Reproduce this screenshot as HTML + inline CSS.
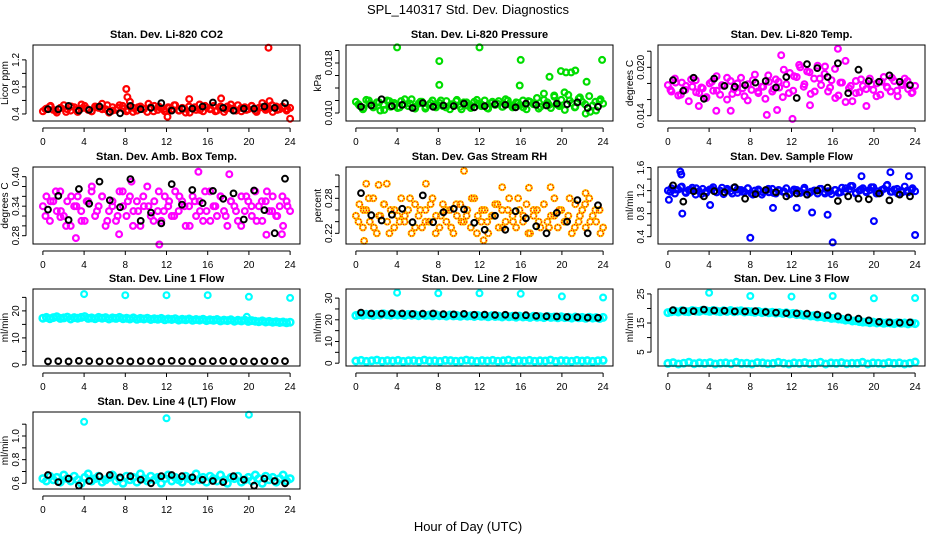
<!DOCTYPE html>
<html><head><meta charset="utf-8"><style>
html,body{margin:0;padding:0;background:#fff;}
svg{display:block;font-family:"Liberation Sans",Arial,sans-serif;}
</style></head><body>
<svg id="chart" width="936" height="540" viewBox="0 0 936 540">
<text x="468" y="14" text-anchor="middle" font-size="13">SPL_140317  Std. Dev. Diagnostics</text>
<text x="468" y="531" text-anchor="middle" font-size="13">Hour of Day (UTC)</text>
</svg>
<script>
// ---- data ----
const xTicks=[0,4,8,12,16,20,24];
const co2Red=[0.44,0.48,0.51,0.46,0.42,0.49,0.53,0.47,0.45,0.50,0.43,0.48,0.52,0.46,0.44,0.51,0.49,0.55,0.47,0.42,0.50,0.46,0.53,0.48,0.44,0.58,0.49,0.45,0.51,0.47,0.43,0.50,0.52,0.46,0.48,0.44,0.50,0.47,0.53,0.45,0.49,0.42,0.51,0.48,0.46,0.54,0.44,0.50,0.47,0.52,0.45,0.49,0.43,0.51,0.48,0.46,0.53,0.44,0.50,0.47,0.52,0.45,0.49,0.56,0.46,0.48,0.43,0.51,0.47,0.50,0.45,0.49];
const co2RedB=[0.47,0.52,0.45,0.49,0.43,0.51,0.46,0.54,0.48,0.44,0.50,0.47,0.53,0.45,0.49,0.52,0.46,0.43,0.50,0.48,0.55,0.44,0.51,0.47,0.49,0.53,0.45,0.48,0.42,0.50,0.46,0.52,0.48,0.44,0.51,0.47,0.54,0.45,0.49,0.46,0.52,0.43,0.50,0.48,0.53,0.46,0.51,0.47];
const co2OutT=[8.1,8.2,17.3,21.9,24,12.1,14.2,22];
const co2OutV=[0.77,0.65,0.63,1.38,0.33,0.36,0.62,0.59];
const co2Black=[0.47,0.47,0.52,0.45,0.46,0.51,0.43,0.41,0.52,0.47,0.49,0.56,0.45,0.48,0.48,0.51,0.57,0.49,0.45,0.48,0.48,0.51,0.49,0.56];
const presGreen=[0.0118,0.0112,0.0106,0.0121,0.0115,0.0109,0.0117,0.0104,0.0113,0.0120,0.0110,0.0116,0.0108,0.0119,0.0114,0.0111,0.0122,0.0107,0.0115,0.0118,0.0110,0.0113,0.0120,0.0109,0.0116,0.0111,0.0119,0.0106,0.0114,0.0121,0.0110,0.0117,0.0112,0.0108,0.0118,0.0115,0.0111,0.0120,0.0107,0.0116,0.0113,0.0119,0.0110,0.0122,0.0114,0.0109,0.0117,0.0112,0.0120,0.0106,0.0118,0.0115,0.0124,0.0110,0.0131,0.0117,0.0108,0.0126,0.0113,0.0121,0.0105,0.0129,0.0116,0.0110,0.0123,0.0118,0.0099,0.0127,0.0112,0.0104,0.0119,0.0115];
const presGreenB=[0.0114,0.0108,0.0120,0.0111,0.0117,0.0105,0.0119,0.0113,0.0109,0.0122,0.0115,0.0110,0.0118,0.0107,0.0116,0.0112,0.0120,0.0109,0.0114,0.0119,0.0106,0.0117,0.0111,0.0121,0.0113,0.0108,0.0118,0.0115,0.0110,0.0120,0.0112,0.0116,0.0109,0.0119,0.0114,0.0107,0.0121,0.0113,0.0128,0.0111,0.0133,0.0120,0.0109,0.0125,0.0114,0.0102,0.0118,0.0122];
const presOutT=[4,12,16,8.1,8.1,18.8,19.9,20.4,20.9,21.3,15.9,22.4,23.9];
const presOutV=[0.0205,0.0205,0.0185,0.0183,0.0145,0.0158,0.0167,0.0165,0.0165,0.0168,0.0144,0.0150,0.0185];
const presBlack=[0.0110,0.0112,0.0122,0.0111,0.0113,0.0108,0.0116,0.0110,0.0112,0.0111,0.0115,0.0109,0.0111,0.0114,0.0113,0.0109,0.0115,0.0113,0.0112,0.0115,0.0114,0.0117,0.0108,0.0110];
const tempMag=[0.0178,0.0170,0.0186,0.0165,0.0181,0.0172,0.0158,0.0176,0.0184,0.0168,0.0174,0.0162,0.0180,0.0171,0.0189,0.0166,0.0177,0.0160,0.0183,0.0173,0.0169,0.0187,0.0164,0.0179,0.0172,0.0191,0.0168,0.0176,0.0161,0.0182,0.0170,0.0185,0.0175,0.0163,0.0179,0.0193,0.0171,0.0188,0.0200,0.0176,0.0195,0.0167,0.0186,0.0202,0.0178,0.0192,0.0170,0.0184,0.0198,0.0165,0.0181,0.0208,0.0174,0.0158,0.0183,0.0169,0.0177,0.0152,0.0186,0.0172,0.0180,0.0166,0.0188,0.0175,0.0170,0.0183,0.0164,0.0179,0.0186,0.0173,0.0168,0.0177];
const tempMagB=[0.0172,0.0181,0.0166,0.0177,0.0185,0.0169,0.0175,0.0163,0.0182,0.0171,0.0178,0.0187,0.0167,0.0180,0.0174,0.0159,0.0184,0.0170,0.0176,0.0190,0.0173,0.0182,0.0197,0.0168,0.0189,0.0203,0.0179,0.0194,0.0170,0.0186,0.0201,0.0175,0.0162,0.0181,0.0157,0.0177,0.0168,0.0185,0.0173,0.0179,0.0164,0.0182,0.0176,0.0187,0.0171,0.0178,0.0183,0.0169];
const tempOutT=[4.7,6.1,9.6,10.6,12.1,16.5,13.8,11,3];
const tempOutV=[0.0146,0.0146,0.0141,0.0147,0.0136,0.0223,0.0153,0.0215,0.0152];
const tempBlack=[0.0184,0.0171,0.0187,0.0161,0.0186,0.0177,0.0176,0.0178,0.0181,0.0183,0.0175,0.0188,0.0162,0.0204,0.0199,0.0188,0.0205,0.0168,0.0197,0.0183,0.0182,0.0190,0.0182,0.0178];
const ambMag=[0.34,0.36,0.31,0.35,0.33,0.37,0.32,0.35,0.30,0.34,0.36,0.33,0.31,0.35,0.37,0.32,0.34,0.36,0.30,0.33,0.35,0.31,0.37,0.34,0.32,0.36,0.33,0.35,0.30,0.34,0.38,0.32,0.35,0.33,0.31,0.36,0.34,0.32,0.37,0.33,0.35,0.30,0.34,0.36,0.32,0.35,0.31,0.33,0.37,0.34,0.32,0.36,0.33,0.30,0.35,0.34,0.31,0.36,0.33,0.35,0.32,0.37,0.34,0.31,0.35,0.33,0.36,0.32,0.34,0.30,0.35,0.33];
const ambMagB=[0.32,0.35,0.37,0.33,0.30,0.36,0.34,0.31,0.35,0.38,0.33,0.36,0.31,0.34,0.32,0.37,0.35,0.30,0.33,0.36,0.34,0.31,0.37,0.33,0.35,0.32,0.36,0.34,0.30,0.35,0.33,0.37,0.31,0.34,0.36,0.32,0.35,0.33,0.30,0.36,0.34,0.31,0.35,0.37,0.33,0.32,0.36,0.34];
const ambOutT=[3.2,7.4,11.3,15.1,18.1,21.7,23.2,8.6,1.7];
const ambOutV=[0.275,0.283,0.262,0.410,0.405,0.282,0.283,0.390,0.318];
const ambBlack=[0.333,0.361,0.312,0.375,0.345,0.390,0.352,0.338,0.395,0.310,0.327,0.305,0.385,0.343,0.373,0.346,0.371,0.355,0.366,0.313,0.372,0.332,0.285,0.396];
const rhVals=[0.25,0.27,0.23,0.26,0.24,0.28,0.22,0.25,0.27,0.24,0.26,0.23,0.25,0.28,0.24,0.26,0.22,0.27,0.25,0.23,0.26,0.24,0.28,0.25,0.23,0.27,0.24,0.26,0.22,0.25,0.27,0.24,0.26,0.23,0.28,0.25,0.24,0.26,0.22,0.25,0.27,0.23,0.26,0.24,0.28,0.25,0.23,0.26,0.24,0.27,0.22,0.25,0.26,0.23,0.27,0.24,0.25,0.28,0.23,0.26,0.24,0.25,0.22,0.27,0.24,0.26,0.23,0.28,0.25,0.24,0.26,0.23];
const rhValsB=[0.24,0.26,0.28,0.23,0.25,0.27,0.22,0.26,0.24,0.25,0.28,0.23,0.26,0.24,0.27,0.22,0.25,0.26,0.23,0.27,0.24,0.25,0.28,0.22,0.26,0.24,0.25,0.27,0.23,0.26,0.24,0.28,0.25,0.22,0.26,0.24,0.27,0.23,0.25,0.26,0.24,0.28,0.23,0.25,0.27,0.24,0.26,0.22];
const rhOutT=[1,2.2,3,6.8,10.5,14.2,16.8,18.9,22.3,0.8,12.4];
const rhOutV=[0.305,0.303,0.305,0.305,0.327,0.299,0.298,0.299,0.289,0.207,0.208];
const rhBlack=[0.289,0.251,0.242,0.252,0.262,0.239,0.285,0.239,0.256,0.262,0.261,0.238,0.226,0.250,0.226,0.258,0.246,0.232,0.220,0.255,0.240,0.277,0.220,0.268];
const flowBlue=[1.20,1.24,1.15,1.22,1.27,1.18,1.21,1.25,1.13,1.19,1.23,1.16,1.22,1.26,1.17,1.20,1.14,1.23,1.19,1.25,1.16,1.21,1.18,1.24,1.15,1.20,1.22,1.13,1.19,1.17,1.23,1.15,1.20,1.18,1.24,1.14,1.19,1.21,1.16,1.22,1.13,1.18,1.20,1.15,1.23,1.17,1.19,1.14,1.21,1.16,1.25,1.18,1.22,1.28,1.15,1.20,1.24,1.17,1.21,1.26,1.19,1.16,1.23,1.30,1.18,1.22,1.15,1.20,1.27,1.17,1.21,1.19];
const flowBlueB=[1.18,1.22,1.26,1.16,1.21,1.24,1.14,1.19,1.23,1.17,1.25,1.20,1.15,1.22,1.18,1.24,1.13,1.20,1.17,1.23,1.16,1.21,1.19,1.14,1.22,1.18,1.25,1.16,1.20,1.23,1.15,1.19,1.21,1.17,1.24,1.28,1.16,1.22,1.19,1.26,1.15,1.21,1.29,1.18,1.23,1.17,1.20,1.24];
const flowOutT=[1.2,1.3,1.4,8,16,15.5,20,24,10.2,12.5,14,4.1,0.1,18.8,21.6,23.4];
const flowOutV=[1.53,1.48,0.80,0.38,0.30,0.78,0.67,0.43,0.90,0.90,0.82,0.95,1.04,1.45,1.52,1.45];
const flowBlack=[1.29,1.01,1.19,1.10,1.19,1.17,1.26,1.06,1.14,1.21,1.17,1.10,1.15,1.13,1.20,1.25,1.02,1.10,1.06,1.05,1.15,1.03,1.13,1.10];
const l1Cyan=[17.3,17.6,17.1,17.5,17.8,17.2,17.4,17.7,17.0,17.5,17.3,17.6,17.9,17.2,17.4,17.1,17.6,17.3,17.5,17.0,17.4,17.2,17.6,17.1,17.3,17.0,17.4,16.9,17.2,17.0,17.3,16.8,17.1,16.9,17.2,16.7,17.0,16.8,17.1,16.6,16.9,16.7,17.0,16.5,16.8,16.6,16.9,16.4,16.7,16.5,16.8,16.3,16.6,16.4,16.7,16.2,16.5,16.3,16.6,16.1,16.4,16.2,16.0,16.3,15.9,16.1,15.8,16.0,15.7,15.9,15.6,15.8];
const l1OutT=[4,8,12,16,20,24,19.8];
const l1OutV=[26.2,25.8,25.8,25.8,25.2,24.8,17.8];
const l1Black=[1.3,1.4,1.3,1.5,1.4,1.3,1.4,1.5,1.3,1.4,1.4,1.3,1.5,1.4,1.3,1.4,1.4,1.5,1.3,1.4,1.3,1.4,1.5,1.4];
const l2Cyan=[22.0,22.4,22.1,22.6,22.3,22.0,22.5,22.2,22.7,22.3,22.1,22.6,22.2,22.4,22.0,22.5,22.1,22.3,21.9,22.4,22.0,22.2,21.8,22.3,21.9,22.1,21.7,22.2,21.8,22.0,21.6,22.1,21.7,21.9,21.5,22.0,21.6,21.8,21.4,21.9,21.5,21.7,21.3,21.8,21.4,21.6,21.2,21.7,21.3,21.5,21.1,21.6,21.2,21.4,21.0,21.5,21.1,21.3,20.9,21.4,21.0,21.2,20.8,21.3,20.9,21.1,20.7,21.2,20.8,21.0,20.6,21.1];
const l2Low=[1.0,1.3,0.8,1.1,1.4,0.9,1.2,1.0,1.3,0.8,1.1,1.2,0.9,1.4,1.0,1.1,0.8,1.3,1.2,0.9,1.0,1.4,1.1,0.8,1.2,1.0,1.3,0.9,1.1,1.4,0.8,1.2,1.0,1.3,0.9,1.1,1.0,1.4,0.8,1.2,1.1,0.9,1.3,1.0,1.2,0.8,1.1,1.3];
const l2OutT=[4,8,12,16,20,24];
const l2OutV=[32.5,32.2,32.2,32.0,30.8,30.3];
const l2Black=[23.3,22.9,22.8,23.0,22.9,22.7,22.8,22.9,22.6,22.5,22.7,22.3,22.4,22.2,22.3,22.0,22.1,21.8,21.6,21.5,21.3,21.2,21.0,20.9];
const l3Cyan=[18.6,18.9,19.1,18.8,19.2,19.0,18.9,19.3,19.1,19.0,19.4,19.2,19.0,19.3,19.1,18.9,19.2,19.0,19.3,18.9,19.1,19.2,18.8,19.0,18.9,18.7,19.0,18.6,18.8,18.5,18.7,18.4,18.6,18.3,18.5,18.1,18.3,17.9,18.0,17.7,17.8,17.4,17.5,17.1,17.2,16.9,17.0,16.6,16.7,16.4,16.3,16.0,16.1,15.7,15.8,15.5,15.3,15.4,15.1,15.3,15.0,15.2,14.9,15.1,15.0,14.8,15.1,14.9,15.0,14.7,15.0,14.8];
const l3Low=[1.1,1.4,0.9,1.2,1.5,1.0,1.3,1.1,1.4,0.9,1.2,1.3,1.0,1.5,1.1,1.2,0.9,1.4,1.3,1.0,1.1,1.5,1.2,0.9,1.3,1.1,1.4,1.0,1.2,1.5,0.9,1.3,1.1,1.4,1.0,1.2,1.1,1.5,0.9,1.3,1.2,1.0,1.4,1.1,1.3,0.9,1.2,1.6];
const l3OutT=[4,8,12,16,20,24];
const l3OutV=[25.4,24.3,24.1,24.3,23.5,23.6];
const l3Black=[19.4,19.3,19.1,19.6,19.3,19.2,19.0,19.0,19.1,18.8,18.6,18.4,18.3,18.2,17.9,17.7,17.3,16.9,16.5,15.9,15.4,15.2,15.1,15.2];
const l4Cyan=[0.64,0.62,0.66,0.63,0.65,0.61,0.67,0.64,0.62,0.66,0.63,0.60,0.65,0.68,0.62,0.64,0.66,0.61,0.63,0.65,0.67,0.62,0.64,0.60,0.66,0.63,0.65,0.61,0.68,0.64,0.62,0.66,0.63,0.65,0.60,0.64,0.67,0.62,0.65,0.63,0.61,0.66,0.64,0.62,0.68,0.63,0.65,0.61,0.66,0.64,0.62,0.67,0.63,0.60,0.65,0.64,0.66,0.61,0.63,0.65,0.62,0.67,0.64,0.60,0.66,0.63,0.65,0.61,0.64,0.67,0.62,0.64];
const l4OutT=[4,12,20];
const l4OutV=[1.12,1.15,1.18];
const l4Black=[0.67,0.61,0.64,0.58,0.62,0.66,0.67,0.65,0.66,0.63,0.60,0.66,0.67,0.66,0.65,0.63,0.62,0.61,0.66,0.63,0.58,0.64,0.62,0.60];

// ---- layout ----
const colX=[[33,300],[346,613],[658,925]];
const rowY=[[45,121],[167,244],[289,366],[412,489]];
const NS='http://www.w3.org/2000/svg';
const svg=document.getElementById('chart');
function mk(tag,attrs,parent){const e=document.createElementNS(NS,tag);for(const k in attrs)e.setAttribute(k,attrs[k]);(parent||svg).appendChild(e);return e;}

const panels=[
 {name:'co2',title:'Stan. Dev. Li-820 CO2',yl:'Licor ppm',c:0,r:0,dom:[0.296,1.42],ticks:[0.4,0.6,0.8,1.0,1.2],labels:['0.4','','0.8','','1.2'],
  s:[{v:co2Red,col:'#ff0000'},{v:co2RedB,col:'#ff0000',off:true},{t:co2OutT,v:co2OutV,col:'#ff0000'},{v:co2Black,col:'#000',off:true}]},
 {name:'pressure',title:'Stan. Dev. Li-820 Pressure',yl:'kPa',c:1,r:0,dom:[0.00872,0.02088],ticks:[0.010,0.012,0.014,0.016,0.018,0.020],labels:['0.010','','','','0.018',''],
  s:[{v:presGreen,col:'#00dd00'},{v:presGreenB,col:'#00dd00',off:true},{t:presOutT,v:presOutV,col:'#00dd00'},{v:presBlack,col:'#000',off:true}]},
 {name:'li820-temp',title:'Stan. Dev. Li-820 Temp.',yl:'degrees C',c:2,r:0,dom:[0.01334,0.02277],ticks:[0.014,0.016,0.018,0.020,0.022],labels:['0.014','','','0.020',''],
  s:[{v:tempMag,col:'#ff00ff'},{v:tempMagB,col:'#ff00ff',off:true},{t:tempOutT,v:tempOutV,col:'#ff00ff'},{v:tempBlack,col:'#000',off:true}]},
 {name:'amb-temp',title:'Stan. Dev. Amb. Box Temp.',yl:'degrees C',c:0,r:1,dom:[0.2631,0.4197],ticks:[0.28,0.30,0.32,0.34,0.36,0.38,0.40],labels:['0.28','','','0.34','','','0.40'],
  s:[{v:ambMag,col:'#ff00ff'},{v:ambMagB,col:'#ff00ff',off:true},{t:ambOutT,v:ambOutV,col:'#ff00ff'},{v:ambBlack,col:'#000',off:true}]},
 {name:'rh',title:'Stan. Dev. Gas Stream RH',yl:'percent',c:1,r:1,dom:[0.2017,0.3337],ticks:[0.22,0.24,0.26,0.28,0.30,0.32],labels:['0.22','','','0.28','',''],
  s:[{v:rhVals,col:'#ffcc00',dot:true},{v:rhValsB,col:'#ffcc00',dot:true,off:true},{t:rhOutT,v:rhOutV,col:'#ffcc00',dot:true},{v:rhBlack,col:'#000',off:true}]},
 {name:'sample-flow',title:'Stan. Dev. Sample Flow',yl:'ml/min',c:2,r:1,dom:[0.273,1.61],ticks:[0.4,0.6,0.8,1.0,1.2,1.4,1.6],labels:['0.4','','0.8','','1.2','','1.6'],
  s:[{v:flowBlue,col:'#0000ff'},{v:flowBlueB,col:'#0000ff',off:true},{t:flowOutT,v:flowOutV,col:'#0000ff'},{v:flowBlack,col:'#000',off:true}]},
 {name:'line1-flow',title:'Stan. Dev. Line 1 Flow',yl:'ml/min',c:0,r:2,dom:[-0.4,28.1],ticks:[0,5,10,15,20,25],labels:['0','','10','','20',''],
  s:[{v:l1Cyan,col:'#00ffff',thick:true},{t:l1OutT,v:l1OutV,col:'#00ffff'},{v:l1Black,col:'#000',off:true}]},
 {name:'line2-flow',title:'Stan. Dev. Line 2 Flow',yl:'ml/min',c:1,r:2,dom:[-1.3,34.2],ticks:[0,5,10,15,20,25,30],labels:['0','','10','','20','','30'],
  s:[{v:l2Cyan,col:'#00ffff',thick:true},{v:l2Low,col:'#00ffff',thick:true},{t:l2OutT,v:l2OutV,col:'#00ffff'},{v:l2Black,col:'#000',off:true}]},
 {name:'line3-flow',title:'Stan. Dev. Line 3 Flow',yl:'ml/min',c:2,r:2,dom:[0.22,26.7],ticks:[5,10,15,20,25],labels:['5','','15','','25'],
  s:[{v:l3Cyan,col:'#00ffff',thick:true},{v:l3Low,col:'#00ffff',thick:true},{t:l3OutT,v:l3OutV,col:'#00ffff'},{v:l3Black,col:'#000',off:true}]},
 {name:'line4-flow',title:'Stan. Dev. Line 4 (LT) Flow',yl:'ml/min',c:0,r:3,dom:[0.552,1.203],ticks:[0.6,0.7,0.8,0.9,1.0,1.1],labels:['0.6','','0.8','','1.0',''],
  s:[{v:l4Cyan,col:'#00ffff',thick:true},{t:l4OutT,v:l4OutV,col:'#00ffff'},{v:l4Black,col:'#000',off:true}]}
];

panels.forEach(p=>{
  const [x0,x1]=colX[p.c],[y0,y1]=rowY[p.r];
  const g=mk('g',{});
  
  
  const pad=(x1-x0)/1.08*0.04;
  const xs=h=>x0+pad+h/24*((x1-x0)-2*pad);
  const ys=v=>y1-(v-p.dom[0])/(p.dom[1]-p.dom[0])*(y1-y0);
  const cx=(x0+x1)/2;
  const t=mk('text',{x:cx,y:y0-7,'text-anchor':'middle','font-size':11,'font-weight':'bold'},g);
  t.textContent=p.title;
  
  
  p.s.forEach(s=>{
    const sg=mk('g',{},g);
    
    
    const n=s.v.length;
    const isBlack=s.col==='#000';
    s.v.forEach((v,i)=>{
      const h=s.t?s.t[i]:(s.off?(i+0.5)*24/n:i*24/(n-1));
      const px=xs(h),py=ys(v);
      const c=mk('circle',{cx:px.toFixed(1),cy:py.toFixed(1),r:s.thick?3.2:2.9,fill:'none',stroke:s.col,'stroke-width':isBlack?2:(s.thick?2.6:2.2)},sg);
      
      
      if(s.dot){
        const d=mk('circle',{cx:px.toFixed(1),cy:py.toFixed(1),r:2.9,fill:'none',stroke:'#ff0000','stroke-width':1.2,'stroke-dasharray':'1 1.5'},sg);
        
        
      }
    });
  });
  const box=mk('rect',{x:x0,y:y0,width:x1-x0,height:y1-y0,fill:'none',stroke:'#000','stroke-width':1},g);
  
  
  const xa=mk('g',{},g);
  
  
  mk('line',{x1:xs(0),x2:xs(24),y1:y1+7,y2:y1+7,stroke:'#000'},xa);
  xTicks.forEach(h=>{
    mk('line',{x1:xs(h),x2:xs(h),y1:y1+7,y2:y1+11,stroke:'#000'},xa);
    const l=mk('text',{x:xs(h),y:y1+24,'text-anchor':'middle','font-size':10},xa);
    l.textContent=h;
  });
  const ya=mk('g',{},g);
  
  
  const yt=p.ticks;
  mk('line',{x1:x0-7,x2:x0-7,y1:ys(yt[0]),y2:ys(yt[yt.length-1]),stroke:'#000'},ya);
  yt.forEach((v,i)=>{
    const y=ys(v);
    mk('line',{x1:x0-11,x2:x0-7,y1:y,y2:y,stroke:'#000'},ya);
    if(p.labels[i]){
      const l=mk('text',{x:x0-14,y:y,'text-anchor':'middle','font-size':10,transform:`rotate(-90 ${x0-14} ${y})`},ya);
      l.textContent=p.labels[i];
    }
  });
  const yl=mk('text',{x:x0-25,y:(y0+y1)/2,'text-anchor':'middle','font-size':10,transform:`rotate(-90 ${x0-25} ${(y0+y1)/2})`},g);
  yl.textContent=p.yl;
  
  
});
</script>
</body></html>
